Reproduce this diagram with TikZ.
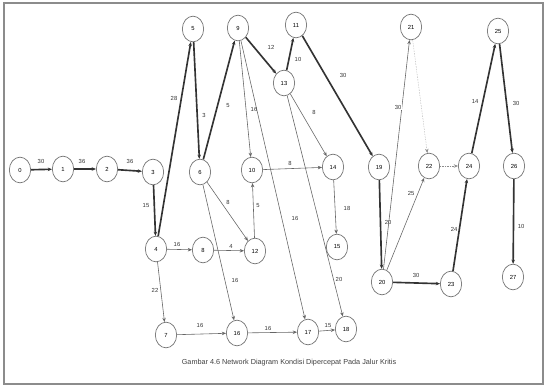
\documentclass[tikz,border=0pt]{standalone}
\usepackage{fontspec}
\setmainfont{Liberation Sans}
\usetikzlibrary{arrows, arrows.meta, shapes.geometric}

\begin{document}
\begin{tikzpicture}[x=0.03cm, y=-0.03cm, >={Stealth[length=3.6pt,width=3pt]},
	event/.style={draw=black!55, ellipse, line width=0.6pt, minimum width=0.64cm, minimum height=0.77cm, inner sep=0pt, font=\fontsize{5}{6}\selectfont},
	crit/.style={->, line width=1.4pt, black!80},
	act/.style={->, line width=0.5pt, black!60},
	dummy/.style={->, line width=0.4pt, black!45, densely dotted},
	dur/.style={font=\fontsize{5}{6}\selectfont, inner sep=0.5pt, black!80}]
	\useasboundingbox (0,0) rectangle (545,387);
	\draw[black!45, line width=1.3pt] (4,3) rectangle (543,384);

	%events
	\node[event] (n0)  at (20,170)  {0};
	\node[event] (n1)  at (63,169)  {1};
	\node[event] (n2)  at (107,169) {2};
	\node[event] (n3)  at (153,172) {3};
	\node[event] (n4)  at (156,249) {4};
	\node[event] (n5)  at (193,29)  {5};
	\node[event] (n6)  at (200,172) {6};
	\node[event] (n7)  at (166,335) {7};
	\node[event] (n8)  at (203,250) {8};
	\node[event] (n9)  at (238,28)  {9};
	\node[event] (n10) at (252,170) {10};
	\node[event] (n11) at (296,25)  {11};
	\node[event] (n12) at (255,251) {12};
	\node[event] (n13) at (284,83)  {13};
	\node[event] (n14) at (333,167) {14};
	\node[event] (n15) at (337,247) {15};
	\node[event] (n16) at (237,333) {16};
	\node[event] (n17) at (308,332) {17};
	\node[event] (n18) at (346,329) {18};
	\node[event] (n19) at (379,167) {19};
	\node[event] (n20) at (382,282) {20};
	\node[event] (n21) at (411,27)  {21};
	\node[event] (n22) at (429,166) {22};
	\node[event] (n23) at (451,284) {23};
	\node[event] (n24) at (469,166) {24};
	\node[event] (n25) at (498,31)  {25};
	\node[event] (n26) at (514,166) {26};
	\node[event] (n27) at (513,277) {27};

	%critical path
	\draw[crit] (n0) -- (n1);
	\draw[crit] (n1) -- (n2);
	\draw[crit] (n2) -- (n3);
	\draw[crit] (n3) -- (n4);
	\draw[crit] (n4) -- (n5);
	\draw[crit] (n5) -- (n6);
	\draw[crit] (n6) -- (n9);
	\draw[crit] (n9) -- (n13);
	\draw[crit] (n13) -- (n11);
	\draw[crit] (n11) -- (n19);
	\draw[crit] (n19) -- (n20);
	\draw[crit] (n20) -- (n23);
	\draw[crit] (n23) -- (n24);
	\draw[crit] (n24) -- (n25);
	\draw[crit] (n25) -- (n26);
	\draw[crit] (n26) -- (n27);

	%other activities
	\draw[act] (n4) -- (n8);
	\draw[act] (n4) -- (n7);
	\draw[act] (n8) -- (n12);
	\draw[act] (n6) -- (n12);
	\draw[act] (n12) -- (n10);
	\draw[act] (n6) -- (n16);
	\draw[act] (n9) -- (n10);
	\draw[act] (n9) -- (n17);
	\draw[act] (n13) -- (n14);
	\draw[act] (n13) -- (n18);
	\draw[act] (n10) -- (n14);
	\draw[act] (n14) -- (n15);
	\draw[act] (n7) -- (n16);
	\draw[act] (n16) -- (n17);
	\draw[act] (n17) -- (n18);
	\draw[act] (n20) -- (n21);
	\draw[act] (n20) -- (n22);
	\draw[dummy] (n21) -- (n22);
	\draw[dummy] (n22) -- (n24);

	%durations
	\node[dur] (d01)   at (41,161)  {30};
	\node[dur] (d12)   at (82,161)  {36};
	\node[dur] (d23)   at (130,161) {36};
	\node[dur] (d34)   at (146,206) {15};
	\node[dur] (d45)   at (174,98)  {28};
	\node[dur] (d56)   at (204,115) {3};
	\node[dur] (d69)   at (228,106) {5};
	\node[dur] (d910)  at (254,109) {16};
	\node[dur] (d913)  at (271,47)  {12};
	\node[dur] (d1311) at (298,59)  {10};
	\node[dur] (d1119) at (343,75)  {30};
	\node[dur] (d1314) at (314,112) {8};
	\node[dur] (d1014) at (290,163) {8};
	\node[dur] (d612)  at (228,202) {8};
	\node[dur] (d1210) at (258,206) {5};
	\node[dur] (d917)  at (295,218) {16};
	\node[dur] (d1415) at (347,208) {18};
	\node[dur] (d48)   at (177,244) {16};
	\node[dur] (d812)  at (231,246) {4};
	\node[dur] (d616)  at (235,280) {16};
	\node[dur] (d1318) at (339,279) {20};
	\node[dur] (d47)   at (155,290) {22};
	\node[dur] (d716)  at (200,325) {16};
	\node[dur] (d1617) at (268,328) {16};
	\node[dur] (d1718) at (328,326) {15};
	\node[dur, fill=white] (d2021) at (398,107) {30};
	\node[dur] (d2022) at (411,193) {25};
	\node[dur] (d1920) at (388,222) {20};
	\node[dur] (d2023) at (416,275) {30};
	\node[dur] (d2324) at (454,229) {24};
	\node[dur] (d2425) at (475,101) {14};
	\node[dur] (d2526) at (516,103) {30};
	\node[dur] (d2627) at (521,226) {10};

	%caption
	\node[font=\fontsize{6.2}{7}\selectfont, black!75] (cap) at (289,363) {Gambar 4.6 Network Diagram Kondisi Dipercepat Pada Jalur Kritis};
\end{tikzpicture}
\end{document}
